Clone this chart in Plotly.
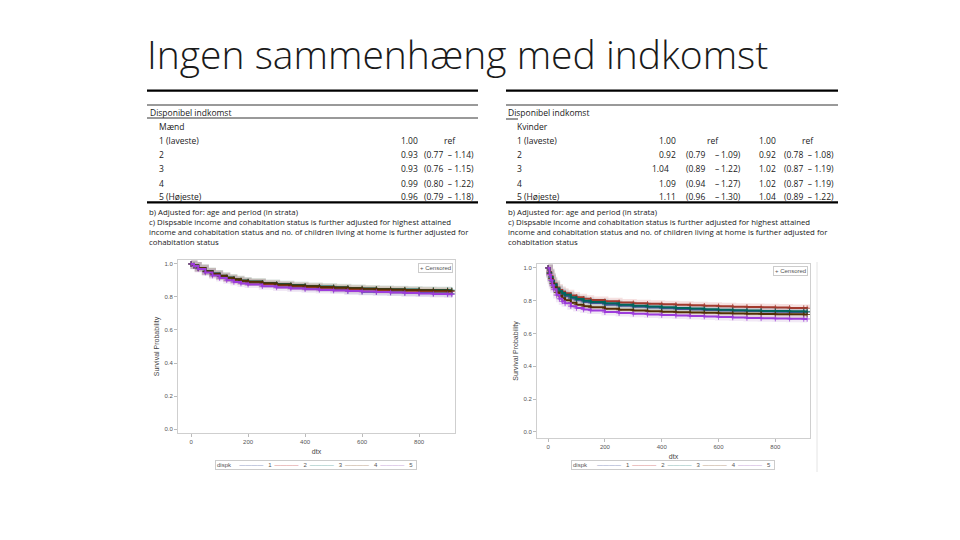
import plotly.graph_objects as go

# ---------------- data ----------------
title_text = "Ingen sammenhæng med indkomst"

group_labels = ["1", "2", "3", "4", "5"]
group_colors = ["#445694", "#A23A2E", "#01665E", "#543005", "#9D3CDB"]
band_colors = ["#6F7EB3", "#D05B5B", "#66A5A0", "#A9865B", "#B689CD"]
legend_title = "dispk"
censor_label = "+ Censored"

# Men (left) Kaplan-Meier estimates
t_men = [0, 10, 25, 50, 75, 100, 125, 150, 175, 200, 250, 300, 350, 400, 450,
         500, 550, 600, 650, 700, 750, 800, 850, 900, 915]
men_g1 = [1.0, 0.99, 0.975, 0.955, 0.94, 0.926, 0.914, 0.903, 0.895, 0.887, 0.877, 0.869, 0.862,
          0.856, 0.851, 0.846, 0.836, 0.832, 0.830, 0.828, 0.826, 0.824, 0.822, 0.820, 0.820]
men_g2 = [1.0, 0.99, 0.974, 0.954, 0.938, 0.924, 0.912, 0.902, 0.894, 0.887, 0.878, 0.871, 0.865,
          0.860, 0.856, 0.852, 0.848, 0.845, 0.842, 0.840, 0.838, 0.836, 0.834, 0.833, 0.833]
men_g3 = [1.0, 0.99, 0.976, 0.957, 0.942, 0.929, 0.918, 0.908, 0.900, 0.894, 0.885, 0.878, 0.872,
          0.867, 0.863, 0.859, 0.855, 0.852, 0.849, 0.847, 0.845, 0.843, 0.842, 0.841, 0.841]
men_g4 = [1.0, 0.99, 0.975, 0.956, 0.941, 0.928, 0.917, 0.907, 0.899, 0.892, 0.883, 0.876, 0.870,
          0.865, 0.861, 0.857, 0.853, 0.850, 0.847, 0.845, 0.843, 0.841, 0.839, 0.838, 0.838]
men_g5 = [1.0, 0.988, 0.970, 0.948, 0.930, 0.915, 0.902, 0.891, 0.882, 0.875, 0.865, 0.858, 0.852,
          0.847, 0.843, 0.839, 0.836, 0.833, 0.830, 0.827, 0.824, 0.821, 0.818, 0.816, 0.815]

# Women (right) Kaplan-Meier estimates
t_women = [0, 5, 10, 15, 20, 30, 40, 50, 60, 80, 100, 125, 150, 200, 250, 300, 350, 400, 450,
           500, 550, 600, 650, 700, 750, 800, 850, 900, 912]
women_g1 = [1.0, 0.97, 0.94, 0.915, 0.895, 0.868, 0.85, 0.838, 0.828, 0.814, 0.803, 0.793, 0.786,
            0.776, 0.769, 0.763, 0.758, 0.754, 0.75, 0.747, 0.744, 0.741, 0.739, 0.737, 0.735,
            0.733, 0.731, 0.73, 0.73]
women_g2 = [1.0, 0.975, 0.95, 0.925, 0.905, 0.88, 0.865, 0.855, 0.845, 0.832, 0.822, 0.812, 0.805,
            0.797, 0.79, 0.785, 0.781, 0.778, 0.775, 0.772, 0.769, 0.766, 0.764, 0.762, 0.76,
            0.758, 0.756, 0.755, 0.754]
women_g3 = [1.0, 0.97, 0.945, 0.92, 0.9, 0.875, 0.858, 0.847, 0.837, 0.822, 0.81, 0.8, 0.793,
            0.784, 0.776, 0.77, 0.765, 0.76, 0.756, 0.752, 0.748, 0.745, 0.742, 0.74, 0.738,
            0.737, 0.736, 0.735, 0.735]
women_g4 = [1.0, 0.965, 0.935, 0.905, 0.882, 0.85, 0.83, 0.815, 0.803, 0.787, 0.776, 0.767, 0.76,
            0.751, 0.745, 0.74, 0.736, 0.733, 0.73, 0.728, 0.726, 0.724, 0.722, 0.72, 0.719,
            0.718, 0.717, 0.716, 0.716]
women_g5 = [1.0, 0.96, 0.925, 0.895, 0.87, 0.835, 0.812, 0.796, 0.784, 0.767, 0.756, 0.747, 0.74,
            0.731, 0.725, 0.72, 0.716, 0.713, 0.71, 0.707, 0.704, 0.701, 0.698, 0.695, 0.693,
            0.691, 0.69, 0.689, 0.689]

# Tables
table_header = "Disponibel indkomst"
row_labels = ["1 (laveste)", "2", "3", "4", "5 (Højeste)"]
men_hr = ["1.00", "0.93", "0.93", "0.99", "0.96"]
men_ci = ["ref", "(0.77  – 1.14)", "(0.76  – 1.15)", "(0.80  – 1.22)", "(0.79  – 1.18)"]

women_hr_a = ["1.00", "0.92", "1.04", "1.09", "1.11"]
women_lo_a = ["", "(0.79", "(0.89", "(0.94", "(0.96"]
women_hi_a = ["", "1.09)", "1.22)", "1.27)", "1.30)"]
women_hr_b = ["1.00", "0.92", "1.02", "1.02", "1.04"]
women_ci_b = ["ref", "(0.78  – 1.08)", "(0.87  – 1.19)", "(0.87  – 1.19)", "(0.89  – 1.22)"]

footnotes = [
    "b) Adjusted for: age and period (in strata)",
    "c) Dispsable income and cohabitation status is further adjusted for highest attained",
    "income and cohabitation status and no. of children living at home is further adjusted for",
    "cohabitation status",
]

# ---------------- figure ----------------
W, H = 960, 540


def px(x):
    return x / W


def py(y):
    return 1 - y / H


fig = go.Figure()

men_series = [men_g1, men_g2, men_g3, men_g4, men_g5]
women_series = [women_g1, women_g2, women_g3, women_g4, women_g5]

for t, series, xa, ya in [(t_men, men_series, "x", "y"), (t_women, women_series, "x2", "y2")]:
    # confidence-band look
    for i, s in enumerate(series):
        fig.add_trace(go.Scatter(x=t, y=s, xaxis=xa, yaxis=ya, mode="lines",
                                 line=dict(color=band_colors[i], width=7, shape="hv"),
                                 opacity=0.18, showlegend=False, hoverinfo="skip"))
    for i, s in enumerate(series):
        fig.add_trace(go.Scatter(x=t, y=s, xaxis=xa, yaxis=ya, mode="lines+markers",
                                 line=dict(color=group_colors[i], width=2, shape="hv"),
                                 marker=dict(symbol="cross-thin", size=4,
                                             line=dict(color=group_colors[i], width=0.8)),
                                 showlegend=False, hoverinfo="skip"))

axis_font = dict(family="Liberation Sans", size=6, color="#555555")
common_x = dict(showgrid=False, zeroline=False, showline=True, mirror=True,
                linecolor="#cfcfcf", linewidth=1, ticks="outside", ticklen=3,
                tickcolor="#bbbbbb", tickfont=axis_font, tickvals=[0, 200, 400, 600, 800])
common_y = dict(showgrid=False, zeroline=False, showline=True, mirror=True,
                linecolor="#cfcfcf", linewidth=1, ticks="outside", ticklen=3,
                tickcolor="#bbbbbb", tickfont=axis_font,
                tickvals=[0, 0.2, 0.4, 0.6, 0.8, 1.0], tickformat=".1f")
title_font = dict(family="Liberation Sans", size=7, color="#444")

fig.update_layout(
    width=W, height=H, margin=dict(l=0, r=0, t=0, b=0),
    paper_bgcolor="white", plot_bgcolor="white", showlegend=False,
    xaxis=dict(domain=[px(178), px(455)], range=[-46, 926], anchor="y",
               title=dict(text="dtx", font=title_font, standoff=4), **common_x),
    yaxis=dict(domain=[py(433), py(260)], range=[-0.024, 1.024], anchor="x",
               title=dict(text="Survival Probability", font=title_font, standoff=4), **common_y),
    xaxis2=dict(domain=[px(537), px(810)], range=[-39, 922], anchor="y2",
                title=dict(text="dtx", font=title_font, standoff=4), **common_x),
    yaxis2=dict(domain=[py(438), py(264)], range=[-0.037, 1.024], anchor="x2",
                title=dict(text="Survival Probability", font=title_font, standoff=4), **common_y),
)

annotations = []
shapes = []

# Title
annotations.append(dict(text=title_text, x=px(145), y=py(54), xref="paper", yref="paper",
                        xanchor="left", yanchor="middle", showarrow=False,
                        font=dict(family="Open Sans", size=39, color="#1a1a1a", weight=300)))

tfont = dict(family="Open Sans", size=8.5, color="#1a1a1a")
ffont = dict(family="Open Sans", size=7.8, color="#1a1a1a")


def txt(s, x, y, anchor="left", font=tfont):
    annotations.append(dict(text=s, x=px(x), y=py(y), xref="paper", yref="paper",
                            xanchor=anchor, yanchor="middle", showarrow=False, font=font))


def hline(x0, x1, y, w):
    shapes.append(dict(type="line", xref="paper", yref="paper", x0=px(x0), x1=px(x1),
                       y0=py(y), y1=py(y), line=dict(color="black", width=w)))


row_y = [141, 155, 169, 183, 196.8]
foot_y = [212, 222, 232, 242]

# Left table (men)
hline(147, 478, 90.7, 2.2)
hline(147, 478, 105, 0.8)
hline(147, 478, 118, 0.8)
hline(147, 478, 202.3, 2.2)
txt(table_header, 148, 112.5)
txt("Mænd", 157, 127)
for i, lab in enumerate(row_labels):
    txt(lab, 157, row_y[i])
    txt(men_hr[i], 399, row_y[i])
    if men_ci[i] == "ref":
        txt("ref", 450, row_y[i], anchor="center")
    else:
        txt(men_ci[i], 476, row_y[i], anchor="right")
for j, f in enumerate(footnotes):
    txt(f, 147, foot_y[j], font=ffont)

# Right table (women)
hline(506, 838, 90.7, 2.2)
hline(506, 838, 105, 0.8)
hline(506, 518, 119, 0.8)
hline(506, 838, 202.3, 2.2)
txt(table_header, 506, 112.5)
txt("Kvinder", 515, 127)
for i, lab in enumerate(row_labels):
    txt(lab, 515, row_y[i])
    txt(women_hr_a[i], 650 if i == 2 else 657, row_y[i])
    if women_lo_a[i] == "":
        txt("ref", 713, row_y[i], anchor="center")
    else:
        txt(women_lo_a[i], 684, row_y[i])
        txt("–", 717, row_y[i], anchor="center")
        txt(women_hi_a[i], 743, row_y[i], anchor="right")
    txt(women_hr_b[i], 757, row_y[i])
    if women_ci_b[i] == "ref":
        txt("ref", 808, row_y[i], anchor="center")
    else:
        txt(women_ci_b[i], 836, row_y[i], anchor="right")
for j, f in enumerate(footnotes):
    txt(f, 506, foot_y[j], font=ffont)

# Censored keys inside plots
for cx, cy in [(435.5, 267.5), (790, 270.5)]:
    annotations.append(dict(text=censor_label, x=px(cx), y=py(cy), xref="paper", yref="paper",
                            xanchor="center", yanchor="middle", showarrow=False,
                            font=dict(family="Liberation Sans", size=6, color="#555"),
                            bordercolor="#cccccc", borderwidth=1, borderpad=1, bgcolor="white"))

# Group keys below plots (text legend with coloured dash runs)
NB = "\u00a0"
TH = "\u2009"


def key_text(lead):
    parts = [legend_title + NB * lead]
    for i, lab in enumerate(group_labels):
        parts.append("<span style='color:%s'>————</span>%s%s%s" %
                     (band_colors[i], NB * 3, lab, NB + TH))
    return "".join(parts)


for lx, ly, lead in [(215, 465, 5), (571, 465, 6)]:
    annotations.append(dict(text=key_text(lead), x=px(lx), y=py(ly), xref="paper", yref="paper",
                            xanchor="left", yanchor="middle", showarrow=False,
                            font=dict(family="Liberation Sans", size=6, color="#555"),
                            bordercolor="#cccccc", borderwidth=1, borderpad=1, bgcolor="white"))

# faint border of the right plot image
shapes.append(dict(type="line", xref="paper", yref="paper", x0=px(817), x1=px(817),
                   y0=py(472), y1=py(262), line=dict(color="#e4e4e4", width=1)))

fig.update_layout(annotations=annotations, shapes=shapes)
fig.write_html("out.html", config={"displayModeBar": False},
               post_script="document.body.style.margin='0px';document.body.style.overflow='hidden';")
